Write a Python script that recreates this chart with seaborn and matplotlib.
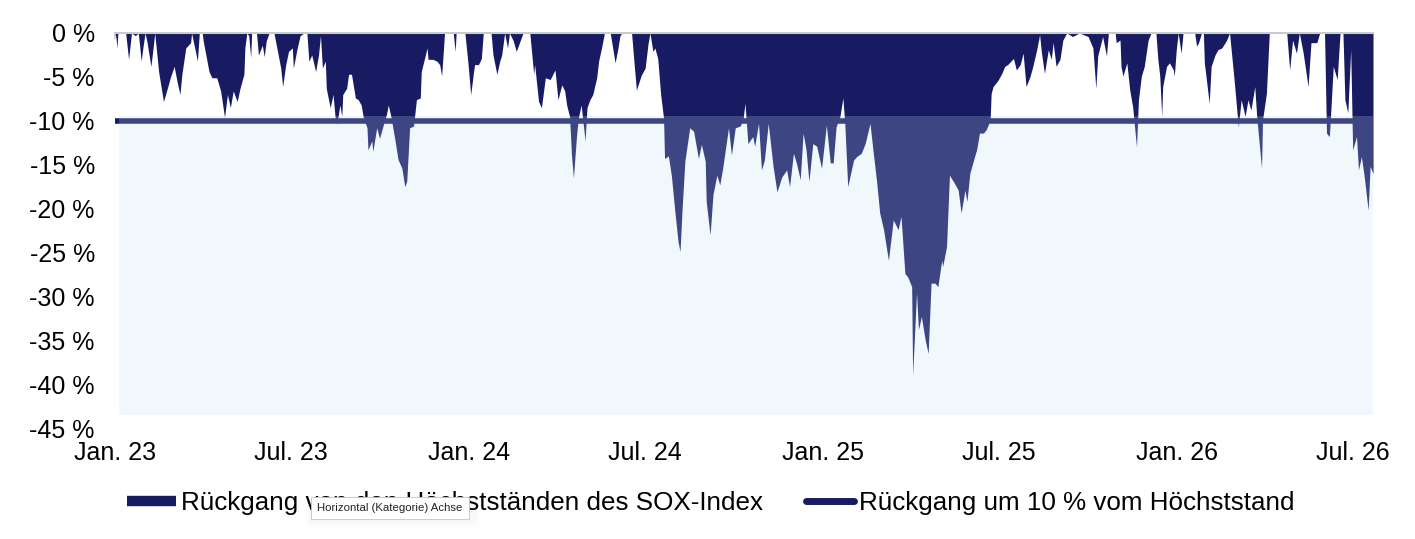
import numpy as np
import pandas as pd
import seaborn as sns
import matplotlib
import matplotlib.pyplot as plt
from matplotlib.lines import Line2D
from matplotlib.patches import Rectangle

matplotlib.use('Agg')

# Tage seit 01.01.2023 und Rückgang vom Höchststand in %
start_date = '2023-01-01'
days_since_start = [
    0, 1, 2, 3, 11, 14, 17, 21, 24, 25, 27, 29, 31, 33, 37, 39, 41, 45, 50, 54,
    57, 61, 64, 67, 69, 73, 78, 79, 83, 85, 87, 90, 91, 97, 100, 105, 109, 113, 116, 119,
    122, 126, 129, 133, 134, 136, 138, 140, 141, 146, 148, 152, 154, 156, 159, 164, 167, 171, 173, 176,
    179, 183, 184, 188, 191, 195, 198, 200, 203, 207, 210, 212, 214,
    217, 218, 222, 225, 227, 229, 232, 234, 235, 239, 241, 244, 248, 251, 254, 256, 260, 261, 265, 266,
    270, 273, 277, 280, 282, 285, 289, 292, 296, 299, 301, 304, 308, 311, 315, 316, 322, 323, 328, 332,
    335, 337, 339, 340, 349, 351, 352, 361, 364, 367, 370, 371, 375, 378, 380, 388, 390, 394, 397, 399,
    402, 405, 407, 411, 414, 418, 421, 428, 432,
    433, 437, 440, 444, 449, 454, 457, 461, 464, 466, 469, 471, 473, 476, 478, 481, 485, 487, 490, 493,
    497, 499, 502, 505, 511, 516, 519, 521, 523, 533, 536, 538, 543, 547, 550, 552, 555, 557, 560, 563,
    566, 567, 571, 574, 578, 581, 583, 585, 588, 593, 597, 602, 605, 609, 610, 614, 617, 621, 624, 627,
    633, 636, 640, 645, 648, 650, 653, 658, 660, 664, 667, 670, 674, 679, 683, 688, 693, 696, 700, 703,
    707, 710, 713, 716, 720, 724, 729, 734, 738, 741, 744, 748, 751, 753, 756, 762, 765, 770, 774, 779,
    782, 786, 789, 793, 798, 803, 808, 811, 815, 818, 822, 823, 827, 829, 832, 836, 839, 842, 846, 849,
    853, 854, 858, 861, 866, 870, 873, 877, 879, 882, 885, 889, 892, 896, 899, 903, 904, 906, 911, 915,
    918, 921, 927, 930, 934, 937, 940, 944, 947, 951, 954, 956, 959, 963, 966, 968, 971, 975, 978, 982,
    988, 995, 1004, 1009, 1012, 1014, 1019, 1023, 1025, 1032, 1033, 1037, 1038, 1040, 1044, 1047, 1050, 1054, 1056, 1059,
    1062, 1066, 1069, 1074, 1076, 1078, 1080, 1081, 1085, 1088, 1092, 1093, 1095, 1097, 1100, 1102, 1114, 1116, 1118, 1121,
    1123, 1124, 1129, 1131, 1135, 1138, 1142, 1147, 1150, 1152, 1155, 1159, 1162, 1166, 1169, 1172, 1176, 1178, 1183, 1184,
    1188, 1191, 1209, 1212, 1215, 1219, 1222, 1226, 1231, 1234, 1240, 1243, 1248, 1250, 1253, 1257, 1261, 1264, 1267, 1269,
    1272, 1275, 1277, 1281, 1283, 1286, 1289, 1293, 1295, 1298,
]
drawdown_pct = [
    0, -0.5, -1.7, 0, 0, -3.0, 0, -0.3, 0, -1.0, -3.2, -1.5, 0, -1.0, -3.8, -2.0, 0, -4.4, -7.8, -6.3,
    -5.1, -3.8, -5.5, -7.0, -4.7, -1.7, -1.1, 0, -2.1, -3.2, 0, 0, -0.9, -4.4, -5.1, -5.1, -6.6, -9.6, -7.0, -8.5,
    -6.6, -7.8, -6.3, -4.7, -1.7, 0, -0.3, -2.8, 0, 0, -2.5, -1.4, -2.7, -0.9, 0, 0, -1.7, -4.0, -6.1, -3.7,
    -2.1, -1.7, -4.0, -1.7, -0.3, 0, 0, -3.2, -2.5, -4.4, -2.5, -0.3, -4.0,
    -3.2, -6.3, -8.5, -7.0, -9.5, -10.4, -8.2, -9.5, -7.0, -6.3, -4.7, -4.7, -7.4, -7.6, -8.2, -9.5, -10.8, -13.3, -12.3, -13.5,
    -10.8, -12.0, -10.4, -9.3, -8.2, -9.7, -12.3, -14.4, -15.4, -17.5, -16.9, -10.8, -10.6, -7.6, -7.4, -4.4, -1.7, -3.0, -3.0, -3.2,
    -3.6, -4.9, -1.7, 0, 0, -2.1, 0, 0, -3.2, -7.0, -4.4, -3.6, -3.6, -2.9, 0, 0, -2.5, -4.7, -3.2, -2.5,
    0, -1.7, 0, -0.9, -2.1, -0.9, 0, 0, -4.7,
    -3.6, -7.8, -8.5, -5.1, -5.3, -4.2, -7.6, -5.9, -6.6, -8.2, -9.5, -13.9, -16.5, -12.0, -9.7, -8.2, -12.3, -8.5, -7.6, -7.0,
    -5.1, -3.2, -1.7, 0, 0, -3.4, -1.7, -0.3, 0, 0, -4.0, -6.5, -4.8, -4.0, -1.2, 0, -2.1, -1.7, -2.9, -7.0,
    -9.7, -14.3, -14.0, -16.2, -20.7, -23.8, -24.9, -20.3, -14.6, -10.8, -11.2, -14.3, -12.7, -14.6, -19.2, -23.0, -18.4, -16.2, -17.3, -15.4,
    -10.8, -13.9, -10.8, -10.6, -9.9, -8.0, -12.6, -11.8, -12.9, -10.3, -15.6, -14.5, -10.3, -15.2, -18.1, -16.4, -15.6, -17.5, -13.7, -14.8,
    -16.7, -11.4, -13.3, -16.9, -12.6, -12.9, -15.4, -10.5, -14.8, -14.8, -10.7, -9.5, -7.4, -10.3, -17.5, -14.5, -14.1, -13.7, -12.6, -10.3,
    -13.3, -17.1, -20.5, -22.4, -25.9, -21.3, -22.4, -20.9, -27.4, -27.8, -28.9, -39.0, -29.6, -33.8, -32.3, -35.0, -36.5, -28.5, -28.5, -28.9,
    -25.9, -26.6, -24.3, -16.2, -17.1, -17.9, -20.5, -17.9, -19.2, -16.0, -14.8, -13.3, -11.4, -11.4, -11.0, -9.9, -6.9, -6.1, -5.4, -4.6,
    -3.8, -3.6, -2.9, -4.2, -3.6, -2.3, -6.1, -5.0, -3.8, -1.9, -0.2, -2.3, -4.6, -1.9, -3.0, -1.1, -3.8, -3.0, -0.8, 0,
    -0.4, 0, -0.4, -1.7, -6.3, -2.6, -0.4, -2.6, 0, 0, -1.1, -0.8, -3.8, -4.9, -3.4, -6.5, -8.4, -13.0, -7.6, -4.9,
    -3.8, -0.8, 0, 0, -3.0, -4.9, -9.5, -6.1, -3.8, -3.4, -4.2, -4.9, -1.9, 0, -2.3, 0, 0, -1.5, -1.1, 0,
    0, -3.4, -8.0, -3.8, -2.5, -1.9, -1.7, -0.8, 0, -2.3, -5.7, -10.7, -7.6, -9.5, -7.6, -8.8, -6.1, -9.5, -15.4, -9.9,
    -6.9, 0, 0, -4.2, -0.8, -2.3, 0, -2.3, -6.1, -1.1, -1.1, 0, 0, -11.4, -11.8, -3.8, -5.3, 0, 0, -7.6,
    -9.1, -1.9, -13.3, -11.8, -15.6, -14.1, -16.4, -20.2, -15.2, -16.0,
]

threshold = -10
band_top = -9.45
band_bottom = -43.5

tick_dates = ['2023-01-01', '2023-07-01', '2024-01-01', '2024-07-01',
              '2025-01-01', '2025-07-01', '2026-01-01', '2026-07-01']
tick_labels = ['Jan. 23', 'Jul. 23', 'Jan. 24', 'Jul. 24',
               'Jan. 25', 'Jul. 25', 'Jan. 26', 'Jul. 26']
y_ticks = [0, -5, -10, -15, -20, -25, -30, -35, -40, -45]
y_labels = ['0 %', '-5 %', '-10 %', '-15 %', '-20 %', '-25 %', '-30 %', '-35 %', '-40 %', '-45 %']
legend_labels = ['Rückgang von den Höchstständen des SOX-Index',
                 'Rückgang um 10 % vom Höchststand']

navy = '#181b62'
band_color = '#c2e3f5'
grey = '#cbcbcb'

sns.set_theme(style='white')
plt.rcParams['font.family'] = ['Liberation Sans', 'DejaVu Sans']

start = pd.Timestamp(start_date)
df = pd.DataFrame({'date': start + pd.to_timedelta(days_since_start, unit='D'),
                   'drawdown': drawdown_pct})
end = df['date'].iloc[-1]

fig = plt.figure(figsize=(14.15, 5.39), dpi=100)
ax = fig.add_axes([115 / 1415, 1 - 428 / 539, 1258 / 1415, 395 / 539])

# Rückgang als Fläche
ax.fill_between(df['date'], 0, df['drawdown'], color=navy, lw=0, zorder=1)

# 10-%-Linie
line_df = pd.DataFrame({'date': [start, end], 'value': [threshold, threshold]})
sns.lineplot(data=line_df, x='date', y='value', ax=ax, color=navy, lw=4,
             solid_capstyle='round', zorder=2)

# halbtransparentes Band unterhalb der Linie
ax.fill_between([start + pd.Timedelta(days=4), end], band_bottom, band_top,
                color=band_color, alpha=0.22, lw=0, zorder=3)

ax.set_xlim(start, end)
ax.set_ylim(-45, 0)
ax.set_xlabel('')
ax.set_ylabel('')

ax.set_xticks(pd.to_datetime(tick_dates))
ax.set_xticklabels(tick_labels, fontsize=18, color='black')
ax.set_yticks(y_ticks)
ax.set_yticklabels(y_labels, fontsize=18, color='black')

ax.tick_params(axis='x', top=True, bottom=False, labelbottom=True, labeltop=False,
               direction='in', length=4, width=1.2, color=grey, pad=9)
ax.tick_params(axis='y', left=False, length=0, pad=14.5)

for side in ['left', 'right', 'bottom']:
    ax.spines[side].set_visible(False)
ax.spines['top'].set_color(grey)
ax.spines['top'].set_linewidth(1.5)
ax.spines['top'].set_zorder(4)

handles = [Line2D([], [], color=navy, lw=7.5, solid_capstyle='butt'),
           Line2D([], [], color=navy, lw=5, solid_capstyle='round')]
fig.legend(handles, legend_labels, loc='center', bbox_to_anchor=(0.5025, 0.067),
           ncol=2, frameon=False, fontsize=18.75, handlelength=1.85,
           handletextpad=0.2, columnspacing=1.65, labelcolor='black')

# eingeblendeter Tooltip aus der Vorlage (liegt über der Legende)
for grow, a in [(6, 0.012), (3, 0.018)]:
    fig.patches.append(Rectangle(((312 - grow) / 1415, 1 - (521 + grow) / 539),
                                 (161 + 2 * grow) / 1415, (20 + 2 * grow) / 539,
                                 transform=fig.transFigure, fc='black', alpha=a,
                                 lw=0, zorder=9))
fig.text(317 / 1415, 1 - 508 / 539, 'Horizontal (Kategorie) Achse', fontsize=8.2,
         ha='left', va='center', color='#222222', zorder=10,
         bbox=dict(boxstyle='square,pad=0.55', fc='white', ec='#c4c4c4', lw=0.6))

fig.savefig('out.png', dpi=100)
